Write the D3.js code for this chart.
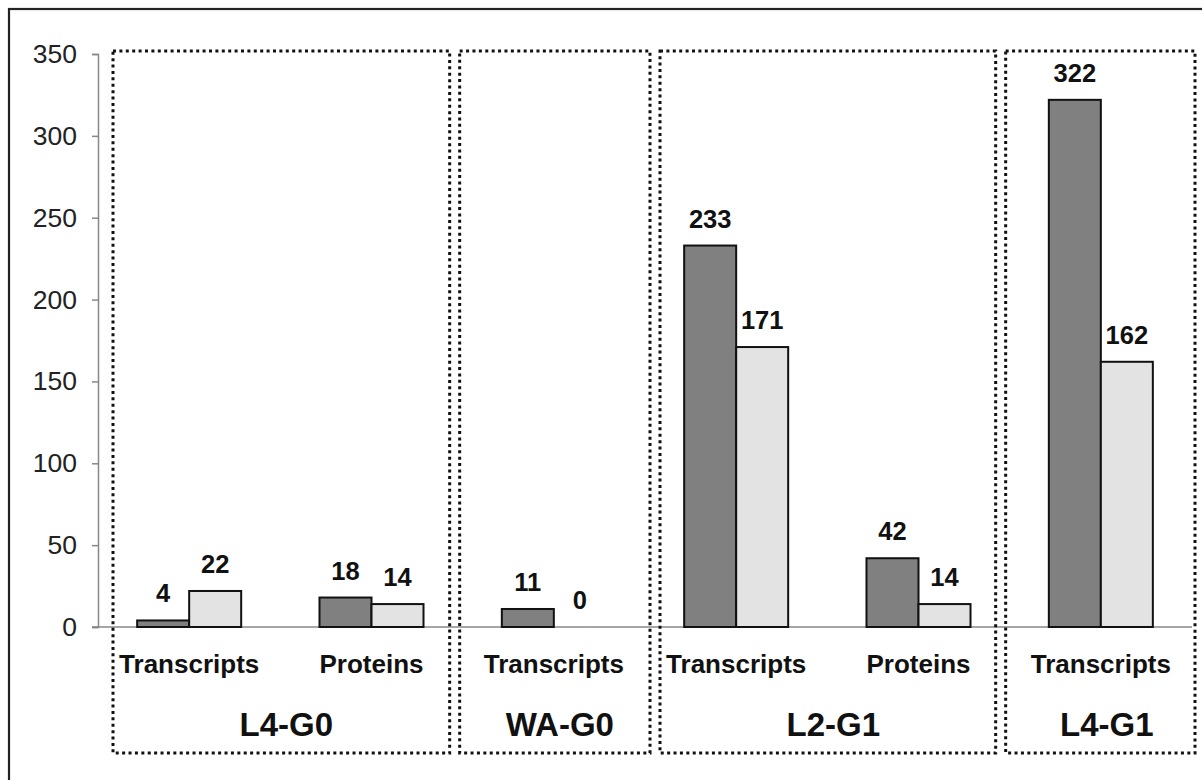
<!DOCTYPE html>
<html>
<head>
<meta charset="utf-8">
<script src="https://d3js.org/d3.v7.min.js"></script>
<style>
body { margin: 0; background: #fff; }
svg text { font-family: "Liberation Sans", Arial, sans-serif; }
</style>
</head>
<body>
<svg id="chart" width="1202" height="780"></svg>
<script>
// values
const categories = ["Transcripts", "Proteins", "Transcripts", "Transcripts", "Proteins", "Transcripts"];
const groupOf = ["L4-G0", "L4-G0", "WA-G0", "L2-G1", "L2-G1", "L4-G1"];
const seriesDark = [4, 18, 11, 233, 42, 322];
const seriesLight = [22, 14, 0, 171, 14, 162];
const yTicks = [0, 50, 100, 150, 200, 250, 300, 350];

const svg = d3.select("#chart")

// outer frame (runs off the right and bottom of the picture)
svg.append("rect")
   .attr("x", 9).attr("y", 9)
   .attr("width", 1210).attr("height", 790)
   .attr("fill", "none").attr("stroke", "#222").attr("stroke-width", 2.2)

const x0 = d3.scaleBand()
             .domain(d3.range(categories.length))
             .range([98, 1192])

const x1 = d3.scaleBand()
             .domain(["dark", "light"])
             .range([0, x0.bandwidth()])
             .paddingOuter(0.753)

const y = d3.scaleLinear().domain([0, 350]).range([627, 54])

//Y axis
const yAxis = svg.append("g")
    .attr("transform", "translate(98,0)")
    .call(d3.axisLeft(y).tickValues(yTicks).tickSize(6).tickPadding(15))
yAxis.select(".domain").attr("stroke", "#888").attr("stroke-width", 1.5)
yAxis.selectAll(".tick line").attr("stroke", "#888").attr("stroke-width", 1.5)
yAxis.selectAll(".tick text")
     .attr("font-size", 26.5).attr("fill", "#222")
     .style("font-family", "'Liberation Sans', Arial, sans-serif")

//baseline
svg.append("line")
   .attr("x1", 92).attr("x2", x0.range()[1])
   .attr("y1", y(0)).attr("y2", y(0))
   .attr("stroke", "#888").attr("stroke-width", 1.5)

//bars
const rows = categories.map((c, i) => ({i: i, dark: seriesDark[i], light: seriesLight[i]}))
const bars = []
rows.forEach(r => {
    bars.push({i: r.i, key: "dark", v: r.dark})
    bars.push({i: r.i, key: "light", v: r.light})
})
const fills = {dark: "#808080", light: "#e3e3e3"}

svg.selectAll("rect.bar")
   .data(bars.filter(d => d.v > 0))
   .enter()
   .append("rect")
   .attr("class", "bar")
   .attr("x", d => x0(d.i) + x1(d.key))
   .attr("y", d => y(d.v))
   .attr("width", x1.bandwidth())
   .attr("height", d => y(0) - y(d.v))
   .attr("fill", d => fills[d.key])
   .attr("stroke", "#111").attr("stroke-width", 2)

//value labels
svg.selectAll("text.val")
   .data(bars)
   .enter()
   .append("text")
   .attr("class", "val")
   .attr("x", d => x0(d.i) + x1(d.key) + x1.bandwidth() / 2)
   .attr("y", d => y(d.v) - 18)
   .attr("text-anchor", "middle")
   .attr("font-size", 25.5).attr("font-weight", "bold").attr("fill", "#111")
   .text(d => d.v)

//category labels
svg.selectAll("text.cat")
   .data(categories)
   .enter()
   .append("text")
   .attr("class", "cat")
   .attr("x", (d, i) => x0(i) + x0.bandwidth() / 2)
   .attr("y", 673)
   .attr("text-anchor", "middle")
   .attr("font-size", 26).attr("font-weight", "bold").attr("fill", "#111")
   .text(d => d)

//group boxes, hand placed around their categories
const groupNames = Array.from(new Set(groupOf))
const boxInset = {"L4-G0": [15, -13], "WA-G0": [-3, 5], "L2-G1": [15, -14], "L4-G1": [-4, 3]}
const groups = groupNames.map(g => {
    const idx = d3.range(groupOf.length).filter(i => groupOf[i] == g)
    const left = x0(idx[0])
    const right = x0(idx[idx.length - 1]) + x0.bandwidth()
    return {name: g, left: left + boxInset[g][0], right: right + boxInset[g][1], mid: (left + right) / 2}
})

svg.selectAll("rect.box")
   .data(groups)
   .enter()
   .append("rect")
   .attr("class", "box")
   .attr("x", d => d.left)
   .attr("y", 51)
   .attr("width", d => d.right - d.left)
   .attr("height", 702)
   .attr("fill", "none")
   .attr("stroke", "#111").attr("stroke-width", 3)
   .attr("stroke-dasharray", "3 3.4")

svg.selectAll("text.grp")
   .data(groups)
   .enter()
   .append("text")
   .attr("class", "grp")
   .attr("x", d => d.mid + 6)
   .attr("y", 736)
   .attr("text-anchor", "middle")
   .attr("font-size", 33).attr("font-weight", "bold").attr("fill", "#111")
   .text(d => d.name)
</script>
</body>
</html>
